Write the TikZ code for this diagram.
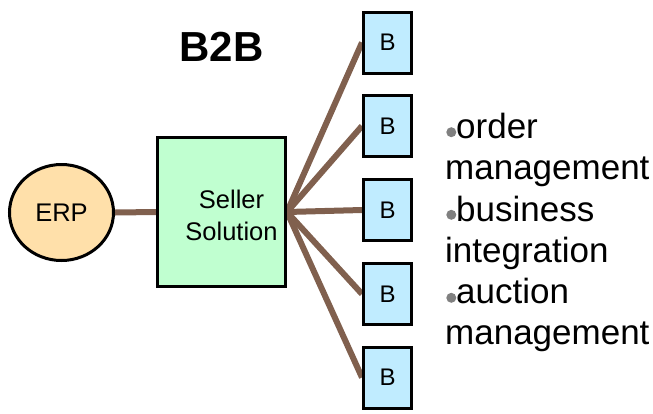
\documentclass[tikz,border=0pt]{standalone}
\usepackage{fontspec}
\setmainfont{Liberation Sans}
\usetikzlibrary{shapes.geometric,backgrounds}
\definecolor{linkbrown}{RGB}{128,96,78}
\definecolor{erpfill}{RGB}{255,224,170}
\definecolor{sellerfill}{RGB}{192,255,208}
\definecolor{bfill}{RGB}{192,236,255}
\definecolor{dotgray}{RGB}{128,128,128}
\begin{document}
\begin{tikzpicture}[x=1pt,y=-1pt,
  link/.style={draw=linkbrown,line width=6pt},
  bbox/.style={draw=black,line width=3pt,fill=bfill,minimum width=48pt,minimum height=61pt,inner sep=0pt,font=\fontsize{24}{24}\selectfont},
  erpnode/.style={ellipse,draw=black,line width=3pt,fill=erpfill,minimum width=104pt,minimum height=96pt,inner sep=0pt,font=\fontsize{25.5}{25.5}\selectfont},
  sellerbox/.style={draw=black,line width=3pt,fill=sellerfill,minimum width=128pt,minimum height=149pt,inner sep=0pt},
  sellertxt/.style={align=center,inner sep=0pt,font=\fontsize{25.5}{32}\selectfont},
  bullettxt/.style={anchor=base west,inner sep=0pt,font=\fontsize{35}{35}\selectfont},
  bulletdot/.style={circle,fill=dotgray,minimum size=10pt,inner sep=0pt},
  title/.style={font=\fontsize{42}{42}\selectfont\bfseries,inner sep=0pt}]
\useasboundingbox (0,0) rectangle (653,413);
\node[title] (ttl) at (221.5,47) {B2B};
\node[erpnode] (erp) at (61.5,212.5) {ERP};
\node[sellerbox] (seller) at (221.5,212) {};
\node[sellertxt] (sellerlbl) at (231.5,215) {Seller\\Solution};
\node[bbox] (b1) at (387.5,42.5) {B};
\node[bbox] (b2) at (387.5,126) {B};
\node[bbox] (b3) at (387.5,210) {B};
\node[bbox] (b4) at (387.5,294) {B};
\node[bbox] (b5) at (387.5,377.5) {B};
\begin{scope}[on background layer]
\draw[link] (erp.east) -- (seller.west);
\foreach \i in {1,...,5}{\draw[link] (seller.east) -- (b\i.west);}
\end{scope}
\node[bulletdot] (d1) at (451.3,132.2) {};
\node[bullettxt] (l1) at (456,138.3) {order};
\node[bullettxt] (l2) at (445,179.6) {management};
\node[bulletdot] (d2) at (451.3,214.8) {};
\node[bullettxt] (l3) at (456,221) {business};
\node[bullettxt] (l4) at (445,262.2) {integration};
\node[bulletdot] (d3) at (451.3,297.8) {};
\node[bullettxt] (l5) at (456,303.5) {auction};
\node[bullettxt] (l6) at (445,344.8) {management};
\end{tikzpicture}
\end{document}
